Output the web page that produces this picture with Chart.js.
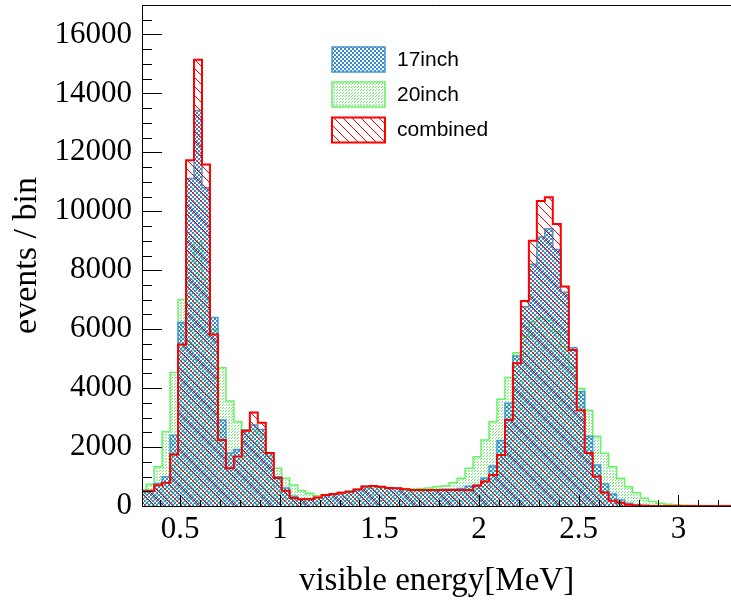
<!DOCTYPE html>
<html>
<head>
<meta charset="utf-8">
<script src="https://cdn.jsdelivr.net/npm/chart.js@4.4.1/dist/chart.umd.min.js"></script>
<style>
    html, body { margin: 0; padding: 0; background: #fff; }
    #wrap { width: 731px; height: 607px; }
</style>
</head>
<body>
<div id="wrap"><canvas id="spectrum" width="731" height="607"></canvas></div>
<script>
// bins of 0.04 MeV, first lower edge at 0.29 MeV
const binLow = 0.29, binWidth = 0.04;

const counts17 = [
    480, 500, 760, 994, 2400, 6230, 11110, 13420, 10800, 6400,
    2920, 1800, 1920, 2580, 2750, 2600, 1810, 990, 610, 330,
    250, 240, 290, 350, 410, 460, 500, 560, 670, 690,
    650, 610, 600, 570, 550, 545, 545, 550, 565, 565,
    590, 670, 710, 940, 1360, 2220, 3490, 5090, 6760, 8200,
    9130, 9410, 8700, 7250, 5370, 3880, 2370, 1390, 750, 410,
    200, 90, 40, 20, 10, 5, 0, 0, 0, 0,
    0, 0, 0, 0, 0
];
const counts20 = [
    550, 735, 1330, 2520, 4530, 7010, 8300, 8950, 7700, 6000,
    4690, 3560, 2860, 2580, 2600, 2450, 1700, 1280, 940, 710,
    520, 430, 350, 370, 420, 460, 500, 570, 650, 660,
    630, 610, 600, 590, 580, 590, 610, 650, 680, 790,
    940, 1280, 1670, 2240, 2860, 3620, 4360, 5200, 5750, 6250,
    6400, 6300, 5900, 5400, 4700, 3990, 3250, 2370, 1790, 1330,
    940, 655, 450, 260, 150, 90, 60, 40, 25, 15,
    10, 5, 5, 5, 5
];
const countsComb = [
    500, 520, 700, 790, 1750, 5480, 11730, 15140, 11590, 5820,
    2240, 1280, 1680, 2550, 3170, 2825, 1800, 950, 520, 270,
    226, 226, 290, 370, 407, 452, 486, 560, 660, 678,
    655, 610, 600, 565, 542, 542, 542, 542, 542, 542,
    542, 542, 690, 830, 1050, 1730, 2915, 4840, 6960, 9000,
    10350, 10475, 9570, 7450, 5290, 3250, 1800, 1000, 460, 180,
    113, 45, 20, 10, 0, 0, 0, 0, 0, 0,
    0, 0, 0, 0, 0
];

const seriesNames = ["17inch", "20inch", "combined"];
const xTicks = [0.5, 1, 1.5, 2, 2.5, 3];
const yTicks = [0, 2000, 4000, 6000, 8000, 10000, 12000, 14000, 16000];

const serif = "'Liberation Serif', 'Times New Roman', serif";

function makePattern(size, paint) {
    let c = document.createElement("canvas");
    c.width = size;
    c.height = size;
    paint(c.getContext("2d"), size);
    return c.getContext("2d").createPattern(c, "repeat");
}

// fill styles: blue checker, green dots, red "\" hatching
let bluePattern = makePattern(4, function (g) {
    g.fillStyle = "rgb(50,140,205)";
    g.fillRect(0, 0, 2, 2);
    g.fillRect(2, 2, 2, 2);
});
let greenPattern = makePattern(3, function (g) {
    g.fillStyle = "rgb(100,235,100)";
    g.fillRect(0, 0, 1, 1);
    g.fillRect(1, 2, 1, 1);
});
let redPattern = makePattern(9, function (g, s) {
    g.strokeStyle = "rgb(255,0,0)";
    g.lineWidth = 1;
    g.beginPath();
    [-s, 0, s].forEach(function (o) {
        g.moveTo(o, 0);
        g.lineTo(o + s, s);
    });
    g.stroke();
});

const styles = [
    { fill: bluePattern, line: "rgb(70,150,210)", width: 1.5 },
    { fill: greenPattern, line: "rgb(100,245,100)", width: 1.5 },
    { fill: redPattern, line: "rgb(255,0,0)", width: 2 }
];

function histo(counts) {
    let pts = counts.map(function (c, i) {
        return { x: +(binLow + binWidth * i).toFixed(2), y: c };
    });
    pts.push({ x: +(binLow + binWidth * counts.length).toFixed(2), y: counts[counts.length - 1] });
    return pts;
}

// frame, inward ticks and the in-pad legend
const rootFrame = {
    id: "rootFrame",
    afterDatasetsDraw(chart) {
        let ctx = chart.ctx, a = chart.chartArea, x = chart.scales.x, y = chart.scales.y;
        ctx.save();
        ctx.strokeStyle = "#000";
        ctx.lineWidth = 1;
        ctx.beginPath();
        ctx.moveTo(a.left + 0.5, a.bottom);
        ctx.lineTo(a.left + 0.5, a.top + 0.5);
        ctx.lineTo(a.right, a.top + 0.5);
        ctx.moveTo(a.left, a.bottom + 0.5);
        ctx.lineTo(a.right, a.bottom + 0.5);
        for (let i = 4; i <= 32; i++) {
            let px = Math.round(x.getPixelForValue(i / 10)) + 0.5;
            ctx.moveTo(px, a.bottom);
            ctx.lineTo(px, a.bottom - (i % 5 === 0 ? 11 : 6));
        }
        for (let v = 0; v <= 17000; v += 500) {
            let py = Math.round(y.getPixelForValue(v)) + 0.5;
            ctx.moveTo(a.left, py);
            ctx.lineTo(a.left + (v % 2000 === 0 ? 20 : 10), py);
        }
        ctx.stroke();

        let boxTop = [47, 82, 117.5];
        ctx.font = "21px 'Liberation Sans', Arial, sans-serif";
        ctx.textBaseline = "middle";
        ctx.textAlign = "left";
        seriesNames.forEach(function (name, i) {
            ctx.fillStyle = "#fff";
            ctx.fillRect(332, boxTop[i], 53, 25);
            ctx.fillStyle = styles[i].fill;
            ctx.fillRect(332, boxTop[i], 53, 25);
            ctx.strokeStyle = styles[i].line;
            ctx.lineWidth = styles[i].width;
            ctx.strokeRect(332, boxTop[i], 53, 25);
            ctx.fillStyle = "#000";
            ctx.fillText(name, 397, boxTop[i] + 13);
        });
        ctx.restore();
    }
};

// drawing order: 20inch at the back, then 17inch, combined on top
let chart = new Chart(document.getElementById("spectrum").getContext("2d"), {
    type: "line",
    data: {
        datasets: [
            { label: seriesNames[0], data: histo(counts17), order: 2 },
            { label: seriesNames[1], data: histo(counts20), order: 3 },
            { label: seriesNames[2], data: histo(countsComb), order: 1 }
        ].map(function (d, i) {
            return Object.assign(d, {
                stepped: true,
                fill: "origin",
                backgroundColor: styles[i].fill,
                borderColor: styles[i].line,
                borderWidth: styles[i].width,
                pointRadius: 0,
                tension: 0
            });
        })
    },
    options: {
        responsive: false,
        animation: false,
        layout: { padding: { top: 5, left: 0, right: 0, bottom: 0 } },
        plugins: {
            legend: { display: false },
            tooltip: { enabled: false }
        },
        scales: {
            x: {
                type: "linear",
                min: 0.309,
                max: 3.264,
                grid: { display: false, drawTicks: false },
                border: { display: false },
                afterBuildTicks: function (s) {
                    s.ticks = xTicks.map(function (v) { return { value: v }; });
                },
                afterFit: function (s) {
                    s.height = 101;
                    s.paddingLeft = 0;
                    s.paddingRight = 0;
                },
                ticks: {
                    color: "#000",
                    padding: 5,
                    maxRotation: 0,
                    autoSkip: false,
                    font: { family: serif, size: 31 },
                    callback: function (v) { return String(v); }
                },
                title: {
                    display: true,
                    text: "visible energy[MeV]",
                    color: "#000",
                    font: { family: serif, size: 33 },
                    padding: { top: 0, bottom: 6 }
                }
            },
            y: {
                min: 0,
                max: 17000,
                grid: { display: false, drawTicks: false },
                border: { display: false },
                afterBuildTicks: function (s) {
                    s.ticks = yTicks.map(function (v) { return { value: v }; });
                },
                afterFit: function (s) {
                    s.width = 142;
                    s.paddingTop = 0;
                    s.paddingBottom = 0;
                },
                ticks: {
                    color: "#000",
                    padding: 10,
                    font: { family: serif, size: 31 },
                    callback: function (v) { return String(v); }
                },
                title: {
                    display: true,
                    text: "events / bin",
                    color: "#000",
                    font: { family: serif, size: 34 },
                    padding: { top: 7, bottom: 0 }
                }
            }
        }
    },
    plugins: [rootFrame]
});
</script>
</body>
</html>
